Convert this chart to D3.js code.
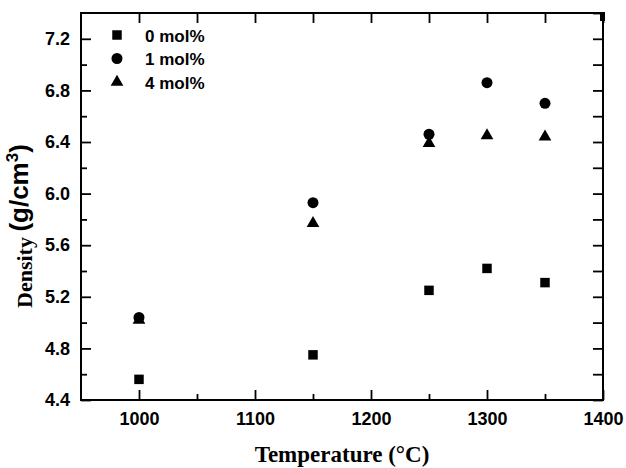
<!DOCTYPE html>
<html>
<head>
<meta charset="utf-8">
<script src="https://cdn.jsdelivr.net/npm/d3@7"></script>
<style>
  body { margin: 0; background: #fff; }
  .axis text { font-family: "Liberation Sans", Arial, sans-serif; font-weight: bold; font-size: 18px; fill: #000; }
</style>
</head>
<body>
<div id="area"></div>
<script>
// data
var temps = [1000, 1150, 1250, 1300, 1350];
var density0 = [4.56, 4.75, 5.25, 5.42, 5.31];
var density1 = [5.04, 5.93, 6.46, 6.86, 6.70];
var density4 = [5.02, 5.77, 6.39, 6.45, 6.44];
var seriesNames = ["0 mol%", "1 mol%", "4 mol%"];

var xMajor = [1000, 1100, 1200, 1300, 1400];
var xMinor = [1050, 1150, 1250, 1350];
var xTop = [1000, 1050, 1100, 1150, 1200, 1250, 1300, 1350, 1400];
var yMajor = [4.4, 4.8, 5.2, 5.6, 6.0, 6.4, 6.8, 7.2];
var yMinor = [4.6, 5.0, 5.4, 5.8, 6.2, 6.6, 7.0];
var yRight = [4.4, 4.6, 4.8, 5.0, 5.2, 5.4, 5.6, 5.8, 6.0, 6.2, 6.4, 6.6, 6.8, 7.0, 7.2, 7.4];

var margin = {top: 13, right: 23, bottom: 68, left: 81},
    width = 626 - margin.left - margin.right,
    height = 468 - margin.top - margin.bottom;

var svg = d3.select('#area').append('svg')
            .attr('width', 626)
            .attr('height', 468);
var g = svg.append('g')
           .attr('transform', 'translate(' + margin.left + ',' + margin.top + ')');

var x = d3.scaleLinear().domain([950, 1400]).range([0, width]);
var y = d3.scaleLinear().domain([4.4, 7.4]).range([height, 0]);

function styleAxis(sel) {
  sel.select('.domain').remove();
  sel.selectAll('.tick line').attr('stroke', '#000').attr('stroke-width', 1.8);
}

// frame
g.append('rect')
  .attr('x', x(950)).attr('y', y(7.4))
  .attr('width', x(1400) - x(950)).attr('height', y(4.4) - y(7.4))
  .attr('fill', 'none').attr('stroke', '#000').attr('stroke-width', 2);

// bottom
g.append('g').attr('class', 'axis')
  .attr('transform', 'translate(0,' + height + ')')
  .call(d3.axisBottom(x).tickValues(xMinor).tickSize(-6).tickFormat(''))
  .call(styleAxis);
g.append('g').attr('class', 'axis')
  .attr('transform', 'translate(0,' + height + ')')
  .call(d3.axisBottom(x).tickValues(xMajor).tickSize(-10).tickPadding(12).tickFormat(d3.format('d')))
  .call(styleAxis);

// left
g.append('g').attr('class', 'axis')
  .call(d3.axisLeft(y).tickValues(yMinor).tickSize(-6).tickFormat(''))
  .call(styleAxis);
g.append('g').attr('class', 'axis yaxis')
  .call(d3.axisLeft(y).tickValues(yMajor).tickSize(-10).tickPadding(11).tickFormat(d3.format('.1f')))
  .call(styleAxis);

// top
g.append('g').attr('class', 'axis')
  .call(d3.axisTop(x).tickValues(xTop).tickSize(-10).tickFormat(''))
  .call(styleAxis);

// right
g.append('g').attr('class', 'axis')
  .attr('transform', 'translate(' + width + ',0)')
  .call(d3.axisRight(y).tickValues(yRight).tickSize(-10).tickFormat(''))
  .call(styleAxis);

// thick top-right corner
g.append('rect').attr('x', x(1400) - 3).attr('y', y(7.4) - 1).attr('width', 5).attr('height', 9).attr('fill', '#000');

// markers
var symSquare = d3.symbol().type(d3.symbolSquare).size(90);
var symCircle = d3.symbol().type(d3.symbolCircle).size(95);
var symTriangle = d3.symbol().type(d3.symbolTriangle).size(70);
var symbols = [symSquare, symCircle, symTriangle];
var seriesData = [density0, density1, density4];

seriesData.forEach(function(vals, i) {
  g.append('g').selectAll('path')
    .data(vals)
    .enter().append('path')
    .attr('d', symbols[i]())
    .attr('fill', '#000')
    .attr('transform', function(d, j) { return 'translate(' + x(temps[j]) + ',' + y(d) + ')'; });
});

// legend
var legend = svg.append('g');
seriesNames.forEach(function(name, i) {
  var ly = 35 + i * 23.5;
  legend.append('path')
    .attr('d', symbols[i]())
    .attr('fill', '#000')
    .attr('transform', 'translate(117,' + ly + ')');
  legend.append('text')
    .attr('x', 145).attr('y', ly + 6.5)
    .style('font-family', '"Liberation Sans", Arial, sans-serif')
    .style('font-weight', 'bold')
    .style('font-size', '17px')
    .text(name);
});

// axis titles
svg.append('text')
  .attr('x', margin.left + width / 2).attr('y', 462)
  .attr('text-anchor', 'middle')
  .style('font-family', '"Liberation Serif", "Times New Roman", serif')
  .style('font-weight', 'bold')
  .style('font-size', '23px')
  .text('Temperature (°C)');

var yt = svg.append('text')
  .attr('transform', 'translate(32,308) rotate(-90)')
  .style('font-weight', 'bold');
yt.append('tspan')
  .style('font-family', '"Liberation Serif", "Times New Roman", serif')
  .style('font-size', '22px')
  .text('Density ');
yt.append('tspan')
  .attr('dy', -4)
  .style('font-family', '"Liberation Sans", Arial, sans-serif')
  .style('font-size', '26px')
  .text('(g/cm');
yt.append('tspan')
  .attr('dy', -10)
  .style('font-family', '"Liberation Sans", Arial, sans-serif')
  .style('font-size', '17px')
  .text('3');
yt.append('tspan')
  .attr('dy', 10)
  .style('font-family', '"Liberation Sans", Arial, sans-serif')
  .style('font-size', '26px')
  .text(')');
</script>
</body>
</html>
